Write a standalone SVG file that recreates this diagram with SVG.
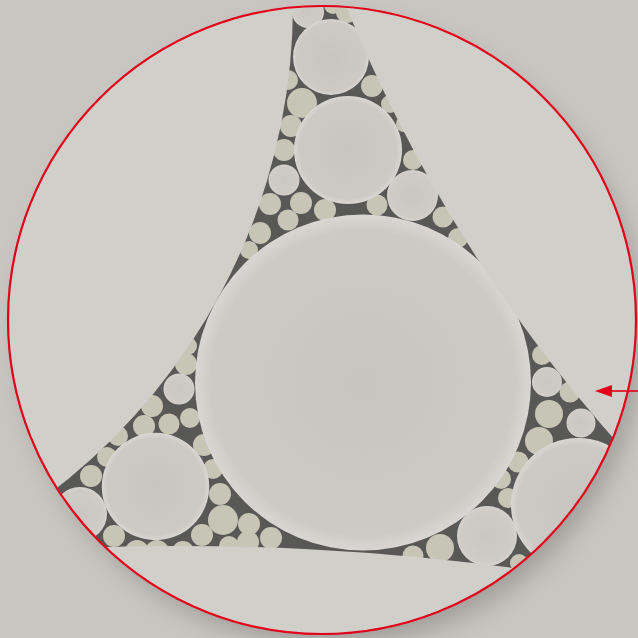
<svg xmlns="http://www.w3.org/2000/svg" width="638" height="638" viewBox="0 0 638 638">
<defs>
  <clipPath id="disk"><circle cx="322" cy="320" r="314"/></clipPath>
  <filter id="sh" x="-30%" y="-30%" width="160%" height="160%"><feGaussianBlur stdDeviation="13"/></filter>
  <radialGradient id="big" cx="0.5" cy="0.5" r="0.5">
    <stop offset="0" stop-color="#c8c5c0"/>
    <stop offset="0.9" stop-color="#cdcac6"/>
    <stop offset="1" stop-color="#d9d7d3"/>
  </radialGradient>
  <radialGradient id="grain" cx="0.5" cy="0.5" r="0.5">
    <stop offset="0" stop-color="#cac7c3"/>
    <stop offset="0.88" stop-color="#cfccc8"/>
    <stop offset="1" stop-color="#d6d4d0"/>
  </radialGradient>
</defs>
<style>
  .m{fill:#c7c5b6}
  .g{fill:url(#grain)}
  .b{fill:url(#big)}
  .l{fill:#d1cfca}
</style>
<rect width="638" height="638" fill="#c9c6c2"/>
<circle cx="331" cy="334" r="311" fill="#7e7b77" opacity="0.55" filter="url(#sh)"/>
<g id="section" clip-path="url(#disk)">
  <rect width="638" height="638" fill="#585856"/>
  <g id="small-fibres">
    <circle class="m" cx="333" cy="5" r="9"/>
    <circle class="m" cx="347" cy="12" r="11"/>
    <circle class="m" cx="288" cy="80" r="10"/>
    <circle class="m" cx="302" cy="103" r="15"/>
    <circle class="m" cx="372" cy="86" r="11"/>
    <circle class="m" cx="390" cy="104" r="9"/>
    <circle class="m" cx="404" cy="124" r="8"/>
    <circle class="m" cx="291" cy="126" r="11"/>
    <circle class="m" cx="284" cy="150" r="11"/>
    <circle class="m" cx="270" cy="204" r="11"/>
    <circle class="m" cx="301" cy="203" r="11"/>
    <circle class="m" cx="288" cy="220" r="10.5"/>
    <circle class="m" cx="325" cy="210" r="11"/>
    <circle class="m" cx="260" cy="233" r="11"/>
    <circle class="m" cx="249" cy="250" r="9"/>
    <circle class="m" cx="377" cy="205" r="10.5"/>
    <circle class="m" cx="413" cy="160" r="10"/>
    <circle class="m" cx="443" cy="217" r="10.5"/>
    <circle class="m" cx="458" cy="238" r="10"/>
    <circle class="m" cx="188" cy="346" r="9"/>
    <circle class="m" cx="186" cy="364" r="11"/>
    <circle class="m" cx="152" cy="406" r="11"/>
    <circle class="m" cx="169" cy="424" r="10.5"/>
    <circle class="m" cx="190" cy="418" r="10"/>
    <circle class="m" cx="144" cy="426" r="11"/>
    <circle class="m" cx="118" cy="436" r="10"/>
    <circle class="m" cx="204" cy="445" r="11"/>
    <circle class="m" cx="107" cy="457" r="10"/>
    <circle class="m" cx="91" cy="476" r="11"/>
    <circle class="m" cx="114" cy="536" r="11"/>
    <circle class="m" cx="137" cy="552" r="12"/>
    <circle class="m" cx="157" cy="552" r="12"/>
    <circle class="m" cx="183" cy="552" r="11"/>
    <circle class="m" cx="202" cy="535" r="11"/>
    <circle class="m" cx="223" cy="520" r="15"/>
    <circle class="m" cx="220" cy="494" r="11"/>
    <circle class="m" cx="213" cy="469" r="10"/>
    <circle class="m" cx="249" cy="524" r="11"/>
    <circle class="m" cx="248" cy="542" r="11"/>
    <circle class="m" cx="271" cy="538" r="11"/>
    <circle class="m" cx="229" cy="546" r="10"/>
    <circle class="m" cx="542" cy="355" r="10"/>
    <circle class="m" cx="570" cy="392" r="10.5"/>
    <circle class="m" cx="549" cy="414" r="14"/>
    <circle class="m" cx="539" cy="441" r="14"/>
    <circle class="m" cx="518" cy="462" r="10.5"/>
    <circle class="m" cx="501" cy="479" r="10"/>
    <circle class="m" cx="508" cy="498" r="10"/>
    <circle class="m" cx="440" cy="548" r="14"/>
    <circle class="m" cx="413" cy="556" r="10.5"/>
    <circle class="m" cx="519" cy="563" r="9"/>
  </g>
  <g id="medium-fibres">
    <circle class="g" cx="308" cy="12" r="16"/>
    <circle class="g" cx="284" cy="180" r="15.5"/>
    <circle class="g" cx="412.5" cy="195.5" r="25.5"/>
    <circle class="g" cx="179" cy="389" r="15.5"/>
    <circle class="g" cx="80" cy="514" r="27"/>
    <circle class="g" cx="547" cy="382" r="15"/>
    <circle class="g" cx="581" cy="423" r="14.5"/>
    <circle class="g" cx="487" cy="536" r="30"/>
  </g>
  <g id="large-fibres">
    <circle class="b" cx="331" cy="57" r="38"/>
    <circle class="b" cx="348" cy="150" r="54"/>
    <circle class="b" cx="155.5" cy="486.5" r="53.7"/>
    <circle class="b" cx="578" cy="505" r="67"/>
    <circle class="b" cx="363" cy="382.5" r="168"/>
  </g>
  <g id="outer-fibres">
    <circle class="l" cx="-321" cy="4" r="614"/>
    <circle class="l" cx="1749" cy="-563" r="1514"/>
    <circle class="l" cx="180" cy="3084" r="2538"/>
  </g>
</g>
<circle id="outline" cx="322" cy="320" r="314" fill="none" stroke="#e2001a" stroke-width="2.2"/>
<g id="arrow">
  <line x1="638" y1="391" x2="610" y2="391" stroke="#e2001a" stroke-width="1.6"/>
  <polygon points="595,391 612,385 612,397" fill="#e2001a"/>
</g>
</svg>
